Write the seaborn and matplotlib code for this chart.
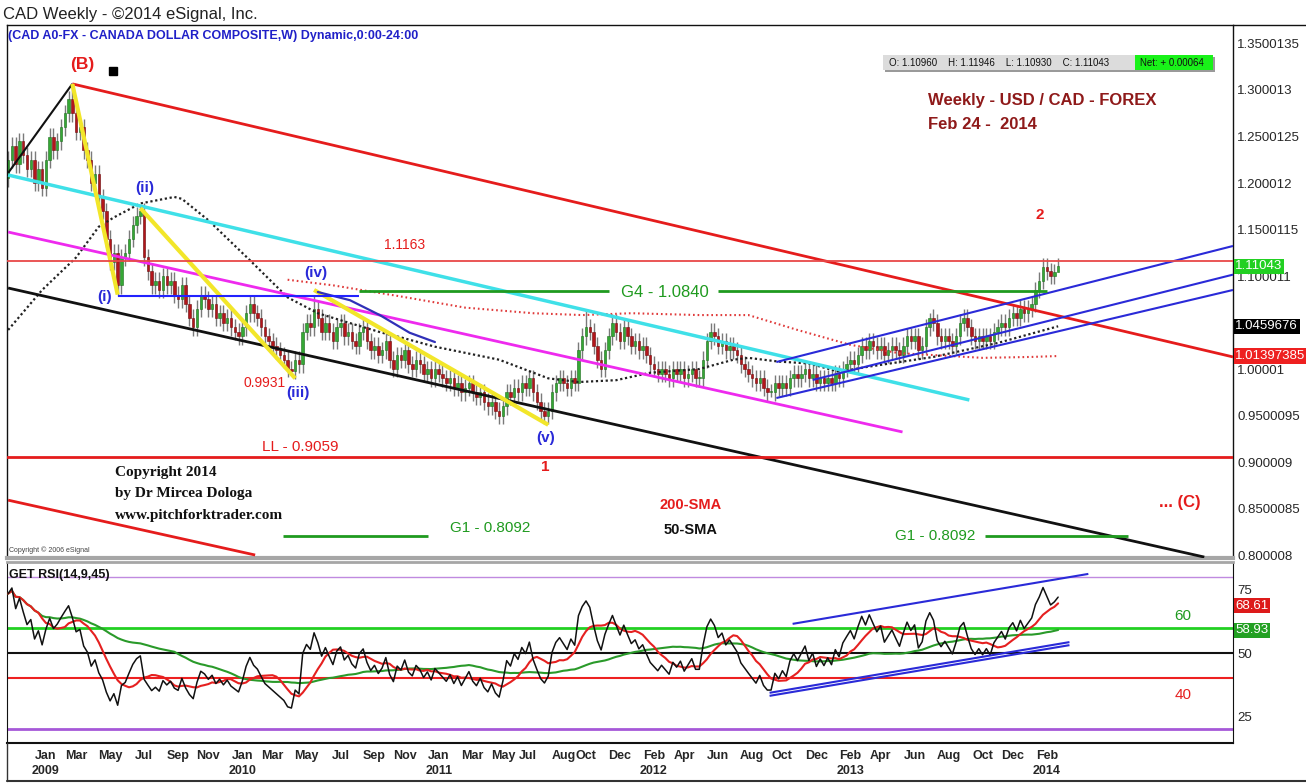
"""
USD/CAD weekly candles with Elliott-wave markup and a GET RSI(14,9,45) pane,
redrawn after the eSignal chart of Feb 24 2014.
"""

import matplotlib
matplotlib.use("Agg")
import numpy as np
import pandas as pd
import seaborn as sns
from matplotlib import pyplot as plt
from matplotlib.lines import Line2D
from matplotlib.patches import Rectangle
from matplotlib.transforms import blended_transform_factory

# ---------------------------------------------------------------- data
weeks = pd.date_range("2008-10-27", "2014-02-24", freq="W-MON")

# weekly closes (one per bar)
closes = [
    1.225, 1.240, 1.220, 1.245, 1.230, 1.215, 1.225, 1.200, 1.215, 1.195,   # 0
    1.225, 1.250, 1.235, 1.245, 1.260, 1.275, 1.290, 1.275, 1.255, 1.260,   # 10
    1.235, 1.225, 1.200, 1.210, 1.185, 1.170, 1.140, 1.115, 1.125, 1.090,   # 20
    1.120, 1.125, 1.140, 1.155, 1.165, 1.170, 1.120, 1.105, 1.090, 1.095,   # 30
    1.085, 1.100, 1.090, 1.095, 1.080, 1.075, 1.090, 1.070, 1.055, 1.045,   # 40
    1.065, 1.080, 1.075, 1.065, 1.070, 1.055, 1.060, 1.050, 1.055, 1.045,   # 50
    1.040, 1.035, 1.045, 1.060, 1.070, 1.060, 1.055, 1.045, 1.035, 1.030,   # 60
    1.025, 1.020, 1.015, 1.010, 1.000, 0.998, 1.010, 1.005, 1.040, 1.050,   # 70
    1.045, 1.065, 1.055, 1.040, 1.050, 1.040, 1.030, 1.045, 1.050, 1.035,   # 80
    1.040, 1.030, 1.025, 1.040, 1.045, 1.030, 1.020, 1.025, 1.015, 1.020,   # 90
    1.030, 1.010, 1.000, 1.015, 1.010, 1.020, 1.005, 1.000, 1.010, 1.005,   # 100
    0.995, 1.000, 0.990, 1.000, 0.995, 0.990, 0.985, 0.990, 0.980, 0.985,   # 110
    0.975, 0.980, 0.985, 0.975, 0.970, 0.975, 0.965, 0.960, 0.965, 0.955,   # 120
    0.950, 0.960, 0.975, 0.970, 0.980, 0.975, 0.985, 0.980, 0.990, 0.975,   # 130
    0.965, 0.955, 0.950, 0.955, 0.975, 0.985, 0.990, 0.985, 0.980, 0.990,   # 140
    0.985, 1.020, 1.035, 1.045, 1.040, 1.025, 1.010, 1.000, 1.020, 1.035,   # 150
    1.050, 1.040, 1.030, 1.045, 1.035, 1.025, 1.030, 1.020, 1.025, 1.015,   # 160
    1.005, 1.000, 0.995, 1.000, 0.995, 0.990, 1.000, 0.995, 1.000, 0.990,   # 170
    0.995, 1.000, 0.990, 0.990, 1.010, 1.030, 1.040, 1.035, 1.025, 1.030,   # 180
    1.020, 1.025, 1.020, 1.015, 1.005, 1.000, 0.995, 0.990, 0.985, 0.990,   # 190
    0.980, 0.975, 0.975, 0.985, 0.980, 0.985, 0.980, 0.990, 0.995, 0.990,   # 200
    0.995, 1.000, 0.990, 0.995, 0.985, 0.990, 0.985, 0.990, 0.985, 0.995,   # 210
    0.990, 1.000, 1.005, 1.010, 1.005, 1.015, 1.025, 1.020, 1.030, 1.025,   # 220
    1.020, 1.025, 1.015, 1.020, 1.025, 1.020, 1.015, 1.025, 1.035, 1.030,   # 230
    1.035, 1.020, 1.025, 1.045, 1.055, 1.050, 1.035, 1.030, 1.035, 1.030,   # 240
    1.025, 1.035, 1.050, 1.055, 1.045, 1.035, 1.030, 1.035, 1.030, 1.035,   # 250
    1.030, 1.040, 1.045, 1.050, 1.045, 1.055, 1.060, 1.055, 1.065, 1.060,   # 260
    1.065, 1.070, 1.085, 1.095, 1.110, 1.105, 1.100, 1.104, 1.11043,        # 270
]
first_open = 1.205
wick = 0.009
high_marks = {17: 1.3066, 35: 1.1750, 81: 1.0780, 153: 1.0650, 244: 1.0600,
              275: 1.1195, 278: 1.11946}
low_marks = {29: 1.0785, 75: 0.9931, 142: 0.9406, 202: 0.9700, 278: 1.10930}

# RSI state at the first bar (read from the pane) and typical weekly move
rsi_start = 70.0
avg_move = 0.012

# moving averages (bar index, value)
sma50_idx = [0, 9, 18, 24, 28, 35, 44, 46, 53, 64, 74, 82, 90, 99, 104, 113,
             130, 143, 151, 161, 170, 183, 192, 196, 204, 212, 220, 227, 245,
             262, 278]
sma50_val = [1.042, 1.085, 1.120, 1.153, 1.163, 1.178, 1.185, 1.183, 1.160,
             1.117, 1.077, 1.060, 1.050, 1.039, 1.034, 1.024, 1.010, 0.990,
             0.986, 0.988, 0.996, 1.000, 1.010, 1.012, 1.008, 1.006, 0.997,
             1.002, 1.013, 1.028, 1.0459676]
sma200_idx = [74, 86, 104, 121, 139, 152, 165, 183, 196, 209, 223, 236, 245,
              258, 271, 278]
sma200_val = [1.096, 1.090, 1.078, 1.066, 1.060, 1.058, 1.060, 1.058, 1.058,
              1.042, 1.026, 1.017, 1.015, 1.012, 1.013, 1.01397385]

# drawn studies: (x0, y0, x1, y1) in bar index / price
red_fork = [(17, 1.3066, 324.3, 1.013), (0, 0.859, 65.4, 0.800)]
black_lines = [(0, 1.2108, 17, 1.3066), (0, 1.0871, 316.7, 0.7978)]
cyan_line = (0, 1.2086, 254.5, 0.9667)
magenta_line = (0, 1.1473, 236.8, 0.9323)
yellow_legs = [(17, 1.3066, 29, 1.080), (35, 1.173, 76, 0.990),
               (81, 1.085, 143, 0.940)]
blue_fork = [(203.4, 1.0075, 324.3, 1.1323), (213, 0.9882, 324.3, 1.1015),
             (203.4, 0.9688, 324.3, 1.085)]
navy_idx = [82, 90.5, 98.4, 106.3, 113]
navy_val = [1.0828, 1.074, 1.058, 1.039, 1.029]
wave_i_level = (29, 93, 1.0785)
g4_level = [(93, 159, 1.0840), (188, 275, 1.0840)]
g1_level = [(72.8, 111.2, 0.8204), (258.7, 296.5, 0.8204)]
level_1163 = 1.1163
level_ll = 0.9059

rsi_lines = [(207.7, 61.5, 286, 81.2), (201.6, 34.3, 281, 54.3),
             (201.6, 33.1, 281, 53.1)]

price_ticks = [1.3500135, 1.300013, 1.2500125, 1.200012, 1.1500115, 1.100011,
               1.00001, 0.9500095, 0.900009, 0.8500085, 0.800008]
price_tick_labels = ["1.3500135", "1.300013", "1.2500125", "1.200012",
                     "1.1500115", "1.100011", "1.00001", "0.9500095",
                     "0.900009", "0.8500085", "0.800008"]

month_ticks = ["2009-01", "2009-03", "2009-05", "2009-07", "2009-09", "2009-11",
               "2010-01", "2010-03", "2010-05", "2010-07", "2010-09", "2010-11",
               "2011-01", "2011-03", "2011-05", "2011-07", "2011-08", "2011-10",
               "2011-12", "2012-02", "2012-04", "2012-06", "2012-08", "2012-10",
               "2012-12", "2013-02", "2013-04", "2013-06", "2013-08", "2013-10",
               "2013-12", "2014-02"]
year_marks = {"2009-01": "2009", "2010-01": "2010", "2011-01": "2011",
              "2012-02": "2012", "2013-02": "2013", "2014-02": "2014"}

# ---------------------------------------------------------------- frame
bars = pd.DataFrame({"date": weeks, "close": closes})
bars["idx"] = np.arange(len(bars))
bars["open"] = bars["close"].shift(1).fillna(first_open)
bars["high"] = bars[["open", "close"]].max(axis=1) + wick
bars["low"] = bars[["open", "close"]].min(axis=1) - wick
for k, v in high_marks.items():
    bars.loc[k, "high"] = v
for k, v in low_marks.items():
    bars.loc[k, "low"] = v

# Wilder RSI(14), then its 9 and 45 bar averages
avg_up = avg_move * rsi_start / 100
avg_dn = avg_move * (1 - rsi_start / 100)
rsi = []
for d in bars["close"] - bars["open"]:
    avg_up = (avg_up * 13 + max(d, 0)) / 14
    avg_dn = (avg_dn * 13 + max(-d, 0)) / 14
    rsi.append(100 * avg_up / (avg_up + avg_dn))
bars["rsi"] = rsi
bars["rsi9"] = bars["rsi"].rolling(9, min_periods=1).mean()
bars["rsi45"] = bars["rsi"].rolling(45, min_periods=1).mean()

# ---------------------------------------------------------------- style
sns.set_style("white")
plt.rcParams["font.family"] = ["Liberation Sans", "DejaVu Sans"]

RED = "#e51c1c"
DKRED = "#8f1a1a"
GREEN = "#1f9a1f"
BLUE = "#2a2ad8"

W, H = 1306, 783
fig = plt.figure(figsize=(W / 100, H / 100), dpi=100)
ax = fig.add_axes([7 / W, 1 - 558 / H, 1226 / W, 533 / H])
rx = fig.add_axes([7 / W, 1 - 743 / H, 1226 / W, 181 / H], sharex=ax)

ax.set_xlim(-0.3, 324.3)
ax.set_ylim(0.7968, 1.3699)
rx.set_ylim(14.5, 85.9)

# ---------------------------------------------------------------- candles
up = bars["close"] >= bars["open"]
ax.vlines(bars["idx"], bars["low"], bars["high"], color="#7a7a7a", lw=1,
          zorder=2)
body = (bars["close"] - bars["open"]).abs().clip(lower=0.0015)
ax.bar(bars["idx"], body, bottom=bars[["open", "close"]].min(axis=1),
       width=0.66, color=np.where(up, "#35a835", "#b3161b"),
       edgecolor=np.where(up, "#1e6e1e", "#6e0c0c"), lw=0.4, zorder=2)

# moving averages
sns.lineplot(x=sma50_idx, y=sma50_val, ax=ax, color="#222222", lw=1.6,
             linestyle=(0, (1, 1.2)), zorder=3)
sns.lineplot(x=sma200_idx, y=sma200_val, ax=ax, color="#e03a3a", lw=1.5,
             linestyle=(0, (0.8, 1.4)), zorder=3)


def seg(axis, s, **kw):
    axis.plot([s[0], s[2]], [s[1], s[3]], solid_capstyle="butt", **kw)


for s in red_fork:
    seg(ax, s, color=RED, lw=2, zorder=4)
seg(ax, black_lines[0], color="#111111", lw=1.5, zorder=4)
seg(ax, black_lines[1], color="#111111", lw=2, zorder=4)
seg(ax, cyan_line, color="#3fe0e8", lw=2.5, zorder=4)
seg(ax, magenta_line, color="#ee2aee", lw=2, zorder=4)
for s in yellow_legs:
    seg(ax, s, color="#f2e62a", lw=3, zorder=4)
for s in blue_fork:
    seg(ax, s, color=BLUE, lw=1.5, zorder=4)
sns.lineplot(x=navy_idx, y=navy_val, ax=ax, color="#3030b8", lw=1.6, zorder=4)

ax.hlines(wave_i_level[2], wave_i_level[0], wave_i_level[1], color="#2222ff",
          lw=1.5, zorder=4)
for a, b, v in g4_level:
    ax.hlines(v, a, b, color=GREEN, lw=2, zorder=4)
for a, b, v in g1_level:
    ax.hlines(v, a, b, color=GREEN, lw=2, zorder=4)
ax.axhline(level_1163, color="#e84848", lw=1.3, zorder=4)
ax.axhline(level_ll, color=RED, lw=2, zorder=4)

# ---------------------------------------------------------------- labels
def label(x, y, s, color, size=11, weight="bold", ha="center", **kw):
    ax.text(x, y, s, color=color, fontsize=size, fontweight=weight, ha=ha,
            va="center", zorder=6, **kw)


label(19.6, 1.327, "(B)", RED, 12.5)
ax.plot([27.8], [1.320], marker="s", ms=6, color="#000000", zorder=6)
label(36.3, 1.1946, "(ii)", BLUE, 11)
label(25.4, 1.0774, "(i)", BLUE, 11)
label(76.8, 0.974, "(iii)", BLUE, 11)
label(68, 0.985, "0.9931", RED, 10, "normal")
label(81.5, 1.103, "(iv)", BLUE, 11)
label(142.2, 0.926, "(v)", BLUE, 11)
label(142.2, 0.8946, "1", RED, 11)
label(273.2, 1.1656, "2", RED, 11)
label(105, 1.1333, "1.1163", RED, 10, "normal")
label(174, 1.0828, "G4 - 1.0840", GREEN, 12, "normal")
label(77.3, 0.916, "LL - 0.9059", RED, 11, "normal")
label(127.6, 0.829, "G1 - 0.8092", GREEN, 11, "normal")
label(245.4, 0.8204, "G1 - 0.8092", GREEN, 11, "normal")
label(180.6, 0.8538, "200-SMA", RED, 10.5)
label(180.6, 0.8269, "50-SMA", "#111111", 10.5)
label(310.3, 0.857, "... (C)", RED, 12)
label(243.6, 1.289, "Weekly - USD / CAD - FOREX", DKRED, 12, ha="left")
label(243.6, 1.2634, "Feb 24 -  2014", DKRED, 12, ha="left")
for k, line in enumerate(["Copyright 2014", "by Dr Mircea Dologa",
                          "www.pitchforktrader.com"]):
    ax.text(28.3, 0.8892 - k * 0.0232, line, fontsize=11, fontweight="bold",
            family=["Liberation Serif", "DejaVu Serif"], va="center",
            color="#111111", zorder=6)
ax.text(0.3, 0.8054, "Copyright \u00a9 2006 eSignal", fontsize=5,
        color="#444444", va="center")

fig.text(3 / W, 1 - 14 / H, "CAD Weekly - \u00a92014 eSignal, Inc.",
         fontsize=12, color="#222222", va="center")
fig.text(8 / W, 1 - 36 / H,
         "(CAD A0-FX - CANADA DOLLAR COMPOSITE,W) Dynamic,0:00-24:00",
         fontsize=9, fontweight="bold", color="#2020c8", va="center")

# OHLC strip
fig.add_artist(Rectangle((885 / W, 1 - 72 / H), 330 / W, 15 / H,
                         transform=fig.transFigure, color="#9a9a9a", lw=0))
fig.add_artist(Rectangle((883 / W, 1 - 70 / H), 330 / W, 15 / H,
                         transform=fig.transFigure, color="#dcdcdc", lw=0))
fig.add_artist(Rectangle((1135 / W, 1 - 70 / H), 78 / W, 15 / H,
                         transform=fig.transFigure, color="#19f219", lw=0))
fig.text(889 / W, 1 - 62.5 / H,
         "O: 1.10960    H: 1.11946    L: 1.10930    C: 1.11043",
         fontsize=7, va="center", color="#111111")
fig.text(1140 / W, 1 - 62.5 / H, "Net: + 0.00064", fontsize=7, va="center",
         color="#111111")

# ---------------------------------------------------------------- price axis
ax.yaxis.tick_right()
ax.set_yticks(price_ticks)
ax.set_yticklabels(price_tick_labels)
ax.tick_params(axis="y", length=0, pad=3, labelsize=9.5)
ax.tick_params(axis="x", bottom=False, labelbottom=False)
for side in ["left", "right", "top"]:
    ax.spines[side].set_color("#111111")
    ax.spines[side].set_linewidth(1)
ax.spines["bottom"].set_color("#a6a6a6")
ax.spines["bottom"].set_linewidth(3)

trans = blended_transform_factory(ax.transAxes, ax.transData)
for val, txt, bg in [(1.11043, "1.11043", "#22d022"),
                     (1.0459676, "1.0459676", "#000000"),
                     (1.01397385, "1.01397385", "#ee2020")]:
    ax.text(1.002, val, txt, transform=trans, fontsize=9.5, color="white",
            va="center", ha="left", zorder=7, clip_on=False,
            bbox=dict(boxstyle="square,pad=0.12", fc=bg, ec="none"))

# ---------------------------------------------------------------- RSI pane
rx.axhline(80, color="#c08ae0", lw=1)
rx.axhline(60, color="#22d022", lw=2)
rx.axhline(50, color="#111111", lw=1.5)
rx.axhline(40, color="#ee2020", lw=1.5)
rx.axhline(20, color="#a658d8", lw=2)
sns.lineplot(data=bars, x="idx", y="rsi45", ax=rx, color="#2a9a2a", lw=1.5,
             zorder=3)
sns.lineplot(data=bars, x="idx", y="rsi9", ax=rx, color="#e52020", lw=1.5,
             zorder=4)
sns.lineplot(data=bars, x="idx", y="rsi", ax=rx, color="#111111", lw=1.1,
             zorder=5)
for s in rsi_lines:
    seg(rx, s, color=BLUE, lw=1.5, zorder=6)
rx.text(311, 64.5, "60", color=GREEN, fontsize=11, ha="center", va="center")
rx.text(311, 33.5, "40", color="#e52020", fontsize=11, ha="center",
        va="center")
rx.text(0.002, 0.93, "GET RSI(14,9,45)", transform=rx.transAxes, fontsize=9,
        fontweight="bold", color="#111111", va="center")

rtrans = blended_transform_factory(rx.transAxes, rx.transData)
for val, txt, bg in [(68.61, "68.61", "#dd1a1a"), (58.93, "58.93", "#22a022")]:
    rx.text(1.002, val, txt, transform=rtrans, fontsize=9.5, color="white",
            va="center", ha="left", zorder=7, clip_on=False,
            bbox=dict(boxstyle="square,pad=0.12", fc=bg, ec="none"))

rx.yaxis.tick_right()
rx.set_yticks([75, 50, 25])
rx.set_yticklabels(["75", "50", "25"])
rx.tick_params(axis="y", length=0, pad=3, labelsize=9.5)
rx.set_xlabel("")
rx.set_ylabel("")
ax.set_xlabel("")
ax.set_ylabel("")

tick_pos = [int(weeks.searchsorted(pd.Timestamp(m + "-01"))) for m in month_ticks]
tick_txt = [pd.Timestamp(m + "-01").strftime("%b") +
            ("\n" + year_marks[m] if m in year_marks else "\n")
            for m in month_ticks]
rx.set_xticks(tick_pos)
rx.set_xticklabels(tick_txt)
rx.tick_params(axis="x", length=0, pad=5, labelsize=9)
for m, t in zip(month_ticks, rx.get_xticklabels()):
    t.set_fontweight("bold")
    t.set_linespacing(1.3)
    # Jul and Aug 2011 sit one month apart, so they lean away from each other
    if m == "2011-07":
        t.set_horizontalalignment("right")
    elif m == "2011-08":
        t.set_horizontalalignment("left")
rx.spines["top"].set_color("#a6a6a6")
rx.spines["top"].set_linewidth(2)
for side in ["left", "right"]:
    rx.spines[side].set_color("#111111")
rx.spines["bottom"].set_color("#111111")
rx.spines["bottom"].set_linewidth(1.5)

# outer frame bits around the label strip and the title bar
fig.add_artist(Line2D([1233 / W, 1], [1 - 25 / H] * 2, color="#111111", lw=1))
fig.add_artist(Line2D([7 / W, 1], [1 - 781 / H] * 2, color="#333333", lw=1.5))
fig.add_artist(Line2D([7 / W] * 2, [1 - 781 / H, 1 - 743 / H],
                      color="#333333", lw=1))

fig.savefig("out.png", dpi=100, facecolor="white")
